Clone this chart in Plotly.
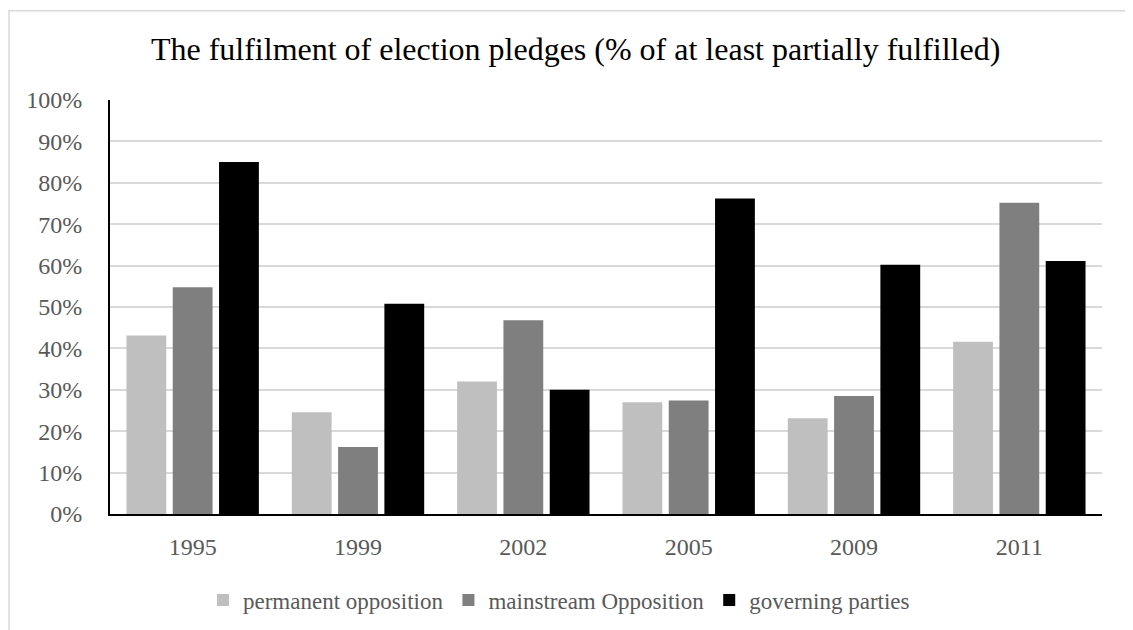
import plotly.graph_objects as go

years = ["1995", "1999", "2002", "2005", "2009", "2011"]
permanent_opposition = [0.431, 0.246, 0.320, 0.270, 0.231, 0.416]
mainstream_opposition = [0.548, 0.162, 0.468, 0.274, 0.285, 0.752]
governing_parties = [0.850, 0.508, 0.300, 0.762, 0.602, 0.611]
y_ticks = [i / 10 for i in range(11)]

series = [
    ("permanent opposition", permanent_opposition, "#bfbfbf"),
    ("mainstream Opposition", mainstream_opposition, "#7f7f7f"),
    ("governing parties", governing_parties, "#000000"),
]

fig = go.Figure()
for name, vals, col in series:
    fig.add_trace(go.Bar(x=years, y=vals, name=name, marker=dict(color=col, line=dict(width=0))))

font_family = "Liberation Serif, Times New Roman, serif"
W, H = 1133, 630
L, R, T, B = 102, 39, 92, 124
pw, ph = W - L - R, H - T - B
fig.update_layout(
    width=W, height=H,
    paper_bgcolor="white", plot_bgcolor="white",
    margin=dict(l=L, r=R, t=T, b=B, autoexpand=False),
    barmode="group", bargap=0.16, bargroupgap=0.14,
    font=dict(family=font_family, color="#595959", size=24),
    title=dict(text="The fulfilment of election pledges (% of at least partially fulfilled)",
               x=0.501, xanchor="center", y=0.935, yanchor="middle",
               font=dict(family=font_family, size=32, color="#000000")),
    legend=dict(orientation="h", x=(195 - L) / pw, xanchor="left", y=-0.208, yanchor="middle",
                font=dict(family=font_family, size=23, color="#595959"),
                itemwidth=30, traceorder="normal"),
    showlegend=True,
)
fig.update_xaxes(showline=True, linecolor="#000000", linewidth=2, ticks="",
                 ticklabelstandoff=10, showgrid=False, automargin=False)
fig.update_yaxes(range=[0, 1], tickvals=y_ticks, tickformat=".0%", showgrid=True,
                 gridcolor="#d9d9d9", gridwidth=1.5, showline=True, linecolor="#000000",
                 linewidth=2, ticks="", ticklabelstandoff=21, zeroline=False, automargin=False)
fig.add_shape(type="rect", xref="paper", yref="paper",
              x0=(1 - L) / pw, x1=(W + 20 - L) / pw, y0=-0.6, y1=(H - B - 2.7) / ph,
              line=dict(color="#d9d9d9", width=1.5), fillcolor="rgba(0,0,0,0)", layer="below")
fig.write_html("out.html")
